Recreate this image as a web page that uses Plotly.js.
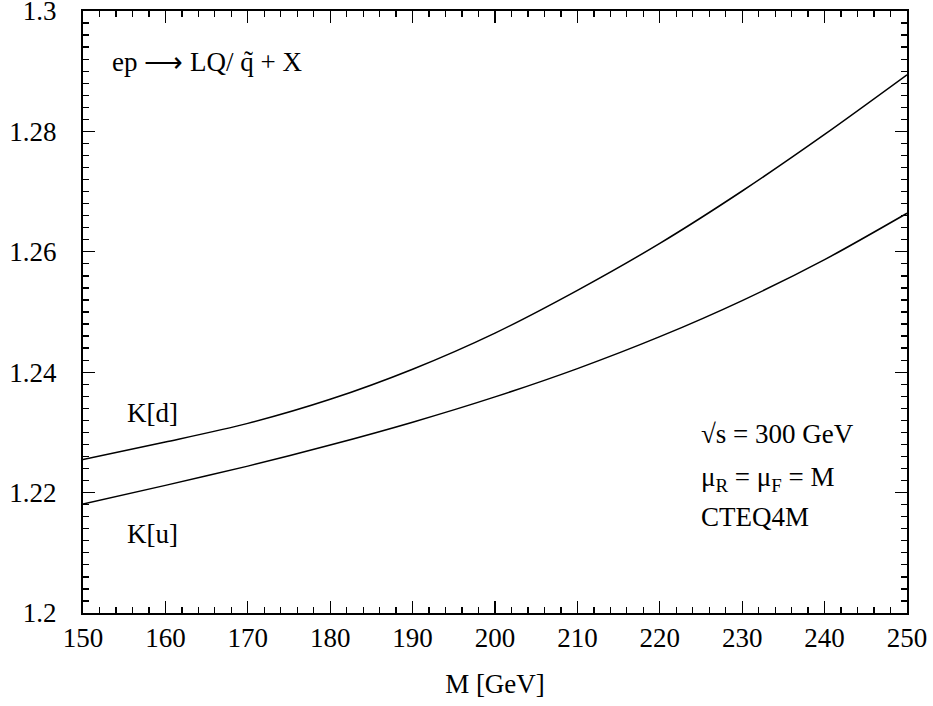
<!DOCTYPE html>
<html>
<head>
<meta charset="utf-8">
<script src="https://cdn.plot.ly/plotly-3.0.1.min.js"></script>
<style>html,body{margin:0;padding:0;background:#fff;}#chart{width:933px;height:706px;}</style>
</head>
<body>
<div id="chart"></div>
<script>
var massM = [150, 160, 170, 180, 190, 200, 210, 220, 230, 240, 250];
var kD = [1.2255, 1.2284, 1.2315, 1.2355, 1.2405, 1.2465, 1.2536, 1.2614, 1.2701, 1.2795, 1.2894];
var kU = [1.2181, 1.2212, 1.2244, 1.2279, 1.2317, 1.2359, 1.2406, 1.2459, 1.2519, 1.2587, 1.2664];
var yLabelStep = 0.02;
var yMajorTickStep = 0.01;
var yMinorTickStep = 0.002;

var fontFam = '"Liberation Serif", "Times New Roman", serif';
var fs = 27;
var lineStyle = {color: '#000', width: 1.5, shape: 'spline', smoothing: 0.8};

var traces = [
  {x: massM, y: kD, mode: 'lines', line: lineStyle, name: 'K[d]', hoverinfo: 'skip'},
  {x: massM, y: kU, mode: 'lines', line: lineStyle, name: 'K[u]', hoverinfo: 'skip'}
];

var axisCommon = {
  showgrid: false, zeroline: false, showline: true, linecolor: '#000', linewidth: 2,
  mirror: 'ticks', ticks: 'inside', ticklen: 12, tickwidth: 1.3, tickcolor: '#000',
  ticklabeloverflow: 'allow',
  tickfont: {family: fontFam, size: fs, color: '#000'}
};

var layout = {
  width: 933, height: 706,
  margin: {l: 83, r: 26, t: 11, b: 93},
  paper_bgcolor: '#fff', plot_bgcolor: '#fff',
  showlegend: false,
  font: {family: fontFam, color: '#000'},
  xaxis: Object.assign({}, axisCommon, {
    range: [150, 250], tickmode: 'linear', tick0: 150, dtick: 10,
    minor: {dtick: 2, ticks: 'inside', ticklen: 6, tickwidth: 1.3, tickcolor: '#000', showgrid: false},
    title: {text: 'M [GeV]', font: {family: fontFam, size: fs, color: '#000'}, standoff: 22}
  }),
  yaxis: Object.assign({}, axisCommon, {
    range: [1.2, 1.3], tickmode: 'linear', tick0: 1.2, dtick: yLabelStep, tickformat: '~r',
    minor: {dtick: yMinorTickStep, tick0: 1.2, ticks: 'inside', ticklen: 6, tickwidth: 1.3, tickcolor: '#000', showgrid: false},
    ticklabelstandoff: 19
  }),
  yaxis2: {
    overlaying: 'y', side: 'left', range: [1.2, 1.3], tickmode: 'linear', tick0: 1.2, dtick: yMajorTickStep,
    showgrid: false, zeroline: false, showline: false, showticklabels: false,
    mirror: 'ticks', ticks: 'inside', ticklen: 12, tickwidth: 1.3, tickcolor: '#000'
  },
  annotations: [
    {xref: 'paper', yref: 'paper', x: 0.033, y: 0.915, xanchor: 'left', yanchor: 'middle', showarrow: false,
     text: 'ep \u27F6 LQ/ q\u0303 + X', font: {family: fontFam, size: fs, color: '#000'}},
    {xref: 'paper', yref: 'paper', x: 0.748, y: 0.298, xanchor: 'left', yanchor: 'middle', showarrow: false,
     text: '\u221As = 300 GeV', font: {family: fontFam, size: fs, color: '#000'}},
    {xref: 'paper', yref: 'paper', x: 0.748, y: 0.222, xanchor: 'left', yanchor: 'middle', showarrow: false,
     text: '\u03BC<sub>R</sub> = \u03BC<sub>F</sub> = M', font: {family: fontFam, size: fs, color: '#000'}},
    {xref: 'paper', yref: 'paper', x: 0.748, y: 0.159, xanchor: 'left', yanchor: 'middle', showarrow: false,
     text: 'CTEQ4M', font: {family: fontFam, size: fs, color: '#000'}},
    {xref: 'paper', yref: 'paper', x: 0.051, y: 0.332, xanchor: 'left', yanchor: 'middle', showarrow: false,
     text: 'K[d]', font: {family: fontFam, size: fs, color: '#000'}},
    {xref: 'paper', yref: 'paper', x: 0.051, y: 0.131, xanchor: 'left', yanchor: 'middle', showarrow: false,
     text: 'K[u]', font: {family: fontFam, size: fs, color: '#000'}}
  ]
};

Plotly.newPlot('chart', traces, layout, {displayModeBar: false, staticPlot: true});
</script>
</body>
</html>
